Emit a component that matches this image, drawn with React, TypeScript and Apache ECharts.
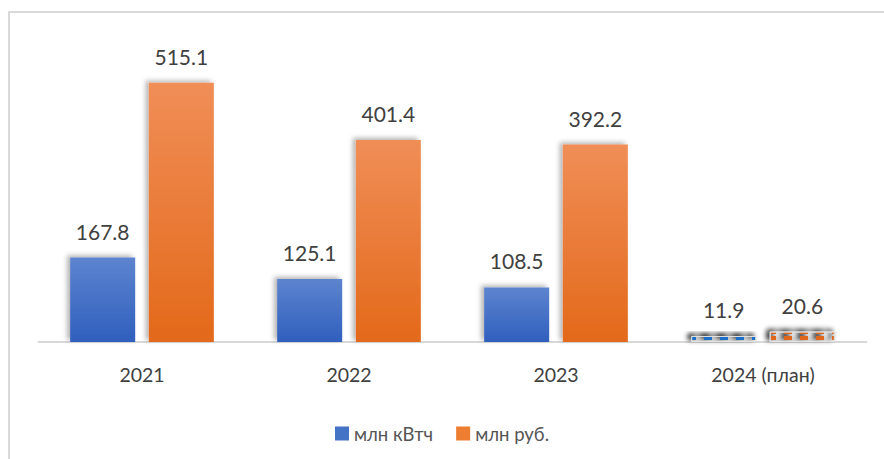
import React, { useEffect, useRef } from "react";
import * as echarts from "echarts";

const categories = ["2021", "2022", "2023", "2024 (план)"];
const kwhValues = [167.8, 125.1, 108.5, 11.9];
const rubValues = [515.1, 401.4, 392.2, 20.6];
const seriesNames = ["млн кВтч", "млн руб."];

const FONT = "Lato, 'Open Sans', sans-serif";

export default function App() {
  const ref = useRef<HTMLDivElement>(null);
  useEffect(() => {
    if (!ref.current) return;
    const chart = echarts.init(ref.current, undefined, { renderer: "svg" });
    const blueGrad = new echarts.graphic.LinearGradient(0, 0, 0, 1, [
      { offset: 0, color: "#5d84cf" },
      { offset: 1, color: "#2f5fbd" },
    ]);
    const orangeGrad = new echarts.graphic.LinearGradient(0, 0, 0, 1, [
      { offset: 0, color: "#f08e57" },
      { offset: 1, color: "#e3691a" },
    ]);
    const shadow = {
      shadowBlur: 5,
      shadowColor: "rgba(0,0,0,0.3)",
      shadowOffsetX: -3,
      shadowOffsetY: -2,
    };
    const mkData = (vals: number[], grad: any, decalColor: string) =>
      vals.map((v, i) =>
        i === vals.length - 1
          ? {
              value: v,
              itemStyle: {
                color: "#ffffff",
                borderColor: "#e0e0e0",
                borderWidth: 1,
                decal: {
                  symbol: "rect",
                  symbolSize: 1,
                  color: decalColor,
                  dashArrayX: [[8, 8]],
                  dashArrayY: [4, 2],
                  rotation: 0,
                },
              },
            }
          : { value: v, itemStyle: { color: grad } }
      );
    const labelStyle = {
      show: true,
      position: "top" as const,
      distance: 16,
      fontSize: 21,
      fontFamily: FONT,
      color: "#404040",
    };
    chart.setOption({
      animation: false,
      graphic: [
        {
          type: "rect",
          shape: { x: 9, y: 12, width: 900, height: 500 },
          style: { fill: "none", stroke: "#d9d9d9", lineWidth: 2 },
          silent: true,
        },
      ],
      legend: {
        data: seriesNames,
        top: 419,
        left: "center",
        itemWidth: 14,
        itemHeight: 14,
        itemGap: 23,
        icon: "rect",
        textStyle: { fontSize: 18.5, fontFamily: FONT, color: "#555555" },
      },
      grid: { left: 38.5, right: 884 - 866.5, top: 40, bottom: 459 - 342 },
      xAxis: {
        type: "category",
        data: categories,
        axisLine: { lineStyle: { color: "#d9d9d9", width: 2 } },
        axisTick: { show: false },
        axisLabel: {
          margin: 22,
          fontSize: 19.5,
          fontFamily: FONT,
          color: "#404040",
        },
      },
      yAxis: {
        type: "value",
        min: 0,
        max: 600,
        show: false,
        splitLine: { show: false },
      },
      series: [
        {
          name: seriesNames[0],
          type: "bar",
          barWidth: 65,
          barGap: "21%",
          data: mkData(kwhValues, blueGrad, "#1f6fc8"),
          itemStyle: { color: "#4472c4", ...shadow },
          label: labelStyle,
        },
        {
          name: seriesNames[1],
          type: "bar",
          barWidth: 65,
          barGap: "21%",
          data: mkData(rubValues, orangeGrad, "#e0661c"),
          itemStyle: { color: "#ed7d31", ...shadow },
          label: labelStyle,
        },
      ],
    });
    return () => chart.dispose();
  }, []);
  return (
    <div
      ref={ref}
      style={{ position: "fixed", left: 0, top: 0, width: 884, height: 459, background: "#fff" }}
    />
  );
}
